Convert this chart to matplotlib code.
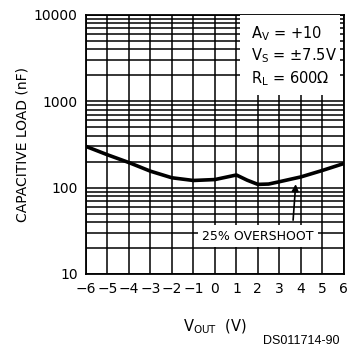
import matplotlib.pyplot as plt
from matplotlib.ticker import FixedLocator, NullFormatter

# curve
vout = [-6, -5, -4, -3, -2, -1, 0, 1, 1.5, 2, 2.5, 3, 4, 5, 6]
cload = [300, 240, 195, 155, 130, 121, 124, 140, 122, 109, 110, 117, 133, 158, 190]

xticks = list(range(-6, 7))
yticks = [10, 100, 1000, 10000]
ytick_labels = ['10', '100', '1000', '10000']

plt.rcParams['font.family'] = ['DejaVu Sans']

fig = plt.figure(figsize=(3.48, 3.54), dpi=100)
ax = fig.add_axes([0.247, 0.226, 0.741, 0.732])

ax.set_xlim(-6, 6)
ax.set_ylim(10, 10000)
ax.set_yscale('log')

ax.set_xticks(xticks)
ax.set_xticklabels([str(v).replace('-', '\u2212') for v in xticks])
ax.set_yticks(yticks)
ax.set_yticklabels(ytick_labels)
ax.yaxis.set_minor_locator(FixedLocator([m * d for d in (10, 100, 1000) for m in range(2, 10)]))
ax.yaxis.set_minor_formatter(NullFormatter())

ax.grid(True, which='major', color='black', linewidth=1.1)
ax.grid(True, which='minor', axis='y', color='black', linewidth=1.1)
ax.tick_params(which='both', length=0, labelsize=10, pad=6)
for s in ax.spines.values():
    s.set_linewidth(1.3)

ax.plot(vout, cload, color='black', linewidth=2.6, zorder=3)

# conditions box
ax.add_patch(plt.Rectangle((0.597, 0.69), 0.39, 0.31, transform=ax.transAxes,
                           facecolor='white', edgecolor='none', zorder=4))
cond = ['$\\mathregular{A_V}$ = +10',
        '$\\mathregular{V_S}$ = \u00b17.5V',
        '$\\mathregular{R_L}$ = 600\u03a9']
for txt, yy in zip(cond, [0.911, 0.826, 0.737]):
    ax.text(0.64, yy, txt, transform=ax.transAxes, fontsize=10.5,
            ha='left', va='baseline', zorder=5)

# overshoot label with arrow
ax.text(2.0, 27.5, '25% OVERSHOOT', fontsize=9, ha='center', va='center', zorder=5,
        bbox=dict(facecolor='white', edgecolor='none', pad=3))
ax.annotate('', xy=(3.77, 118), xytext=(3.63, 39),
            arrowprops=dict(arrowstyle='-|>', color='black', lw=1.2, mutation_scale=10), zorder=5)

ax.set_ylabel('CAPACITIVE LOAD (nF)', fontsize=10, labelpad=3)
ax.set_xlabel('$\\mathregular{V_{OUT}}$  (V)', fontsize=10.5, labelpad=15)

fig.text(0.977, 0.02, 'DS011714-90', ha='right', va='bottom', fontsize=9,
         family='Liberation Sans')

fig.savefig('out.png', dpi=100)
